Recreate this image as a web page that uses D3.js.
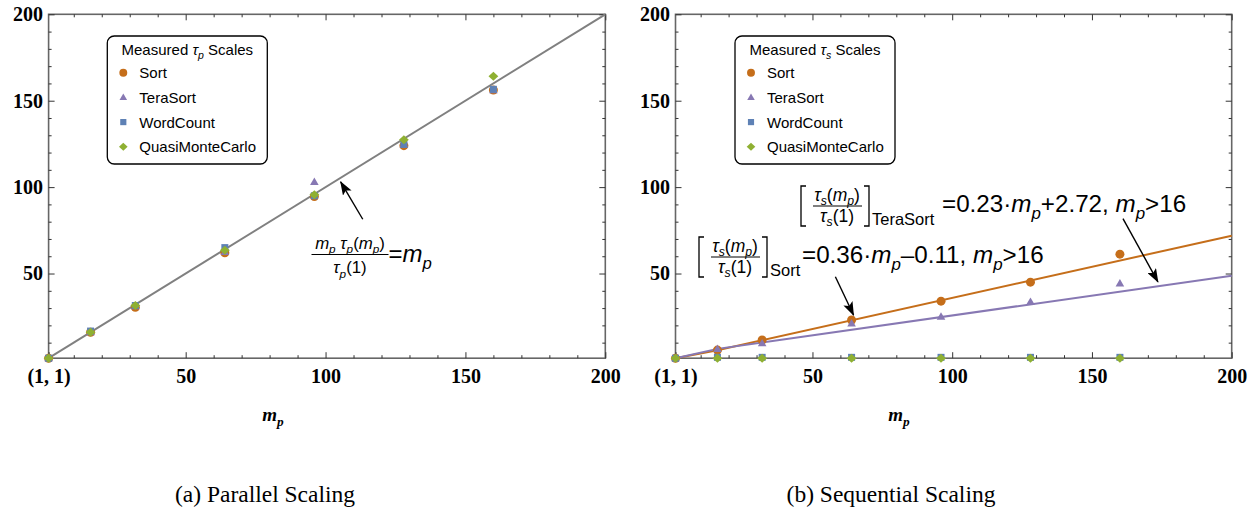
<!DOCTYPE html>
<html>
<head>
<meta charset="utf-8">
<script src="https://cdn.jsdelivr.net/npm/d3@7"></script>
<style>
  body { margin: 0; background: #fff; }
  svg { display: block; }
</style>
</head>
<body>
<div id="chart"></div>
<script>
//----------------------------------------------------------------
// data
var mpValues = [1, 16, 32, 64, 96, 128, 160];
var seriesNames = ["Sort", "TeraSort", "WordCount", "QuasiMonteCarlo"];

// (a) parallel scaling  m_p * tau_p(m_p) / tau_p(1)
var parSort      = [1, 16, 30.5, 62, 94.6, 124, 156.2];
var parTeraSort  = [1, 16, 31, 62.5, 103, 124.5, 156];
var parWordCount = [1, 16.7, 31.5, 65, 95, 124.7, 156.6];
var parQuasiMC   = [1, 16, 31.5, 63.5, 95.6, 127.4, 164.1];

// (b) sequential scaling  tau_s(m_p) / tau_s(1)
var seqSort      = [1, 5.7, 11.5, 23.1, 34, 45, 61.2];
var seqTeraSort  = [1, 6.3, 9.6, 21.1, 25, 33.6, 44.2];
var seqWordCount = [1, 1.5, 1.5, 1.5, 1.5, 1.5, 1.5];
var seqQuasiMC   = [1, 1, 1, 1, 1, 1, 1];

// linear fits for m_p > 16  [slope, intercept]
var sortFit = [0.36, -0.11];
var teraSortFit = [0.23, 2.72];
var fitFrom = 16;

var axisDomain = [1, 200];
var majorTicks = [50, 100, 150, 200];
var minorTicks = [10, 20, 30, 40, 60, 70, 80, 90, 110, 120, 130, 140, 160, 170, 180, 190];

var seriesColors = ["#c56e1a", "#8778b3", "#5e81b5", "#8fb032"];
var seriesShapes = ["circle", "triangle", "square", "diamond"];

//----------------------------------------------------------------
var largeur = 1251, hauteur = 510;
var svg = d3.select("#chart")
  .append("svg")
  .attr("width", largeur)
  .attr("height", hauteur);

var sansFont = "'Liberation Sans', Arial, sans-serif";
var serifFont = "'Liberation Serif', 'Times New Roman', serif";

var arrowDefs = svg.append("defs");
arrowDefs.append("marker")
  .attr("id", "arrowhead")
  .attr("markerUnits", "userSpaceOnUse")
  .attr("viewBox", "0 0 14 10")
  .attr("refX", 13).attr("refY", 5)
  .attr("markerWidth", 14).attr("markerHeight", 10)
  .attr("orient", "auto")
  .append("path")
  .attr("d", "M0,0 L14,5 L0,10 L3,5 Z")
  .attr("fill", "#000");

// marker outline centred on 0,0
function shapePath(kind, s) {
  if (kind === "circle") {
    var r = 4.5 * s;
    return "M" + (-r) + ",0A" + r + "," + r + " 0 1,0 " + r + ",0A" + r + "," + r + " 0 1,0 " + (-r) + ",0Z";
  }
  if (kind === "triangle") {
    var a = 4.3 * s, h = 7.4 * s;
    return "M0," + (-h * 0.6) + "L" + a + "," + (h * 0.4) + "L" + (-a) + "," + (h * 0.4) + "Z";
  }
  if (kind === "square") {
    var q = 3.5 * s;
    return "M" + (-q) + "," + (-q) + "H" + q + "V" + q + "H" + (-q) + "Z";
  }
  var w = 4.9 * s, v = 4.5 * s;
  return "M0," + (-v) + "L" + w + ",0L0," + v + "L" + (-w) + ",0Z";
}

// text with italic pieces and subscripts
function richText(txt, parts, size) {
  var shift = 0;
  parts.forEach(function(p) {
    var target = p.sub ? size * 0.28 : 0;
    txt.append("tspan")
      .attr("dy", target - shift)
      .style("font-size", (p.sub ? size * 0.7 : size) + "px")
      .style("font-style", p.it ? "italic" : "normal")
      .text(p.t);
    shift = target;
  });
  return txt;
}

//----------------------------------------------------------------
// one framed panel with ticks on all four sides
function drawFrame(x, y, captionText, captionX) {
  var g = svg.append("g");
  g.append("rect")
    .attr("x", x(axisDomain[0])).attr("y", y(axisDomain[1]))
    .attr("width", x(axisDomain[1]) - x(axisDomain[0]))
    .attr("height", y(axisDomain[0]) - y(axisDomain[1]))
    .attr("fill", "none")
    .attr("stroke", "#666")
    .attr("stroke-width", 1.6);

  var bottom = g.append("g").attr("transform", "translate(0," + y(1) + ")");
  bottom.call(d3.axisBottom(x).tickValues([1].concat(majorTicks))
    .tickSizeInner(-6).tickSizeOuter(0).tickPadding(11)
    .tickFormat(function(d) { return d === 1 ? "(1, 1)" : d; }));
  bottom.append("g").call(d3.axisBottom(x).tickValues(minorTicks).tickSize(-3).tickFormat(""));

  var top = g.append("g").attr("transform", "translate(0," + y(200) + ")");
  top.call(d3.axisTop(x).tickValues(majorTicks).tickSize(-6).tickFormat(""));
  top.append("g").call(d3.axisTop(x).tickValues(minorTicks).tickSize(-3).tickFormat(""));

  var left = g.append("g").attr("transform", "translate(" + x(1) + ",0)");
  left.call(d3.axisLeft(y).tickValues(majorTicks).tickSizeInner(-6).tickSizeOuter(0).tickPadding(5.5));
  left.append("g").call(d3.axisLeft(y).tickValues(minorTicks).tickSize(-3).tickFormat(""));

  var right = g.append("g").attr("transform", "translate(" + x(200) + ",0)");
  right.call(d3.axisRight(y).tickValues(majorTicks).tickSize(-6).tickFormat(""));
  right.append("g").call(d3.axisRight(y).tickValues(minorTicks).tickSize(-3).tickFormat(""));

  g.selectAll(".domain").remove();
  g.selectAll(".tick line").attr("stroke", "#333").attr("stroke-width", 1);
  g.selectAll(".tick text")
    .attr("fill", "#000")
    .style("font-family", serifFont)
    .style("font-weight", "bold")
    .style("font-size", "20px");

  // axis label m_p
  var lab = g.append("text")
    .attr("x", captionX + 8).attr("y", 421)
    .attr("text-anchor", "middle")
    .style("font-family", serifFont)
    .style("font-weight", "bold");
  richText(lab, [{t: "m", it: 1}, {t: "p", it: 1, sub: 1}], 19);

  g.append("text")
    .attr("x", captionX).attr("y", 502)
    .attr("text-anchor", "middle")
    .style("font-family", serifFont)
    .style("font-size", "23.5px")
    .text(captionText);
  return g;
}

function drawPoints(g, x, y, seriesList) {
  seriesList.forEach(function(vals, i) {
    g.selectAll(".pt" + i)
      .data(mpValues.map(function(m, j) { return [m, vals[j]]; }))
      .enter()
      .append("path")
      .attr("class", "pt" + i)
      .attr("d", shapePath(seriesShapes[i], 1))
      .attr("transform", function(d) { return "translate(" + x(d[0]) + "," + y(d[1]) + ")"; })
      .attr("fill", seriesColors[i]);
  });
}

function drawLegend(x0, y0, symbolSub) {
  var g = svg.append("g").attr("transform", "translate(" + x0 + "," + y0 + ")");
  g.append("rect")
    .attr("width", 160).attr("height", 128)
    .attr("rx", 7)
    .attr("fill", "#fff")
    .attr("stroke", "#000")
    .attr("stroke-width", 1.3);
  var title = g.append("text")
    .attr("x", 80).attr("y", 19)
    .attr("text-anchor", "middle")
    .style("font-family", sansFont);
  richText(title, [{t: "Measured "}, {t: "\u03c4", it: 1}, {t: symbolSub, it: 1, sub: 1}, {t: " Scales"}], 15);

  var item = g.selectAll(".item")
    .data(seriesNames)
    .enter()
    .append("g")
    .attr("transform", function(d, i) { return "translate(16," + (36.7 + i * 24.7) + ")"; });
  item.append("path")
    .attr("d", function(d, i) { return shapePath(seriesShapes[i], 0.88); })
    .attr("fill", function(d, i) { return seriesColors[i]; });
  item.append("text")
    .attr("x", 16).attr("y", 5.4)
    .style("font-family", sansFont)
    .style("font-size", "15px")
    .text(function(d) { return d; });
}

function arrow(x, y, from, to) {
  svg.append("line")
    .attr("x1", x(from[0])).attr("y1", y(from[1]))
    .attr("x2", x(to[0])).attr("y2", y(to[1]))
    .attr("stroke", "#000")
    .attr("stroke-width", 1.4)
    .attr("marker-end", "url(#arrowhead)");
}

//----------------------------------------------------------------
// (a) parallel scaling
var yScale = d3.scaleLinear().domain(axisDomain).range([358.2, 14.3]);
var xPar = d3.scaleLinear().domain(axisDomain).range([48.6, 605.3]);

var gPar = drawFrame(xPar, yScale, "(a) Parallel Scaling", 265);
var ideal = d3.line().x(function(d) { return xPar(d); }).y(function(d) { return yScale(d); });
gPar.append("path")
  .attr("d", ideal(axisDomain))
  .attr("fill", "none")
  .attr("stroke", "#808080")
  .attr("stroke-width", 2);
drawPoints(gPar, xPar, yScale, [parSort, parTeraSort, parWordCount, parQuasiMC]);
drawLegend(107.3, 36, "p");

arrow(xPar, yScale, [113.3, 81.4], [105.4, 103]);
var num = svg.append("text")
  .attr("x", 350).attr("y", 248.6)
  .attr("text-anchor", "middle")
  .style("font-family", sansFont);
richText(num, [{t: "m", it: 1}, {t: "p", it: 1, sub: 1}, {t: " \u03c4", it: 1}, {t: "p", it: 1, sub: 1},
  {t: "("}, {t: "m", it: 1}, {t: "p", it: 1, sub: 1}, {t: ")"}], 16.8);
svg.append("line")
  .attr("x1", 311.5).attr("x2", 388.5)
  .attr("y1", 254.5).attr("y2", 254.5)
  .attr("stroke", "#000").attr("stroke-width", 1);
var den = svg.append("text")
  .attr("x", 350).attr("y", 273)
  .attr("text-anchor", "middle")
  .style("font-family", sansFont);
richText(den, [{t: "\u03c4", it: 1}, {t: "p", it: 1, sub: 1}, {t: "(1)"}], 16.8);
var eq = svg.append("text")
  .attr("x", 388.5).attr("y", 262)
  .style("font-family", sansFont);
richText(eq, [{t: "="}, {t: "m", it: 1}, {t: "p", it: 1, sub: 1}], 24);

//----------------------------------------------------------------
// (b) sequential scaling
var xSeq = d3.scaleLinear().domain(axisDomain).range([675.5, 1231.7]);
var gSeq = drawFrame(xSeq, yScale, "(b) Sequential Scaling", 891);

function fitPoints(fit) {
  return [[1, 1], [fitFrom, fit[0] * fitFrom + fit[1]], [200, fit[0] * 200 + fit[1]]];
}
var fitLine = d3.line().x(function(d) { return xSeq(d[0]); }).y(function(d) { return yScale(d[1]); });
[[sortFit, seriesColors[0]], [teraSortFit, seriesColors[1]]].forEach(function(f) {
  gSeq.append("path")
    .attr("d", fitLine(fitPoints(f[0])))
    .attr("fill", "none")
    .attr("stroke", f[1])
    .attr("stroke-width", 2);
});
drawPoints(gSeq, xSeq, yScale, [seqSort, seqTeraSort, seqWordCount, seqQuasiMC]);
drawLegend(735, 36, "s");

arrow(xSeq, yScale, [58.2, 48.1], [64.7, 26]);
arrow(xSeq, yScale, [161.1, 81.8], [173.6, 45.2]);

function fitLabel(xL, base, groupName, mainX, mainParts) {
  var xR = xL + 68;
  var g = svg.append("g");
  g.append("path")
    .attr("d", "M" + (xL + 5) + "," + (base - 26) + "H" + xL + "V" + (base + 14) + "H" + (xL + 5) +
               "M" + (xR - 5) + "," + (base - 26) + "H" + xR + "V" + (base + 14) + "H" + (xR - 5))
    .attr("fill", "none").attr("stroke", "#000").attr("stroke-width", 1.3);
  var n = g.append("text").attr("x", xL + 36).attr("y", base - 11.5)
    .attr("text-anchor", "middle").style("font-family", sansFont);
  richText(n, [{t: "\u03c4", it: 1}, {t: "s", it: 1, sub: 1}, {t: "("}, {t: "m", it: 1}, {t: "p", it: 1, sub: 1}, {t: ")"}], 17.5);
  g.append("line")
    .attr("x1", xL + 12).attr("x2", xL + 61)
    .attr("y1", base - 6).attr("y2", base - 6)
    .attr("stroke", "#000").attr("stroke-width", 1);
  var dd = g.append("text").attr("x", xL + 36).attr("y", base + 9.5)
    .attr("text-anchor", "middle").style("font-family", sansFont);
  richText(dd, [{t: "\u03c4", it: 1}, {t: "s", it: 1, sub: 1}, {t: "(1)"}], 17.5);
  g.append("text")
    .attr("x", xR + 3).attr("y", base + 13)
    .style("font-family", sansFont).style("font-size", "16.5px")
    .text(groupName);
  var m = g.append("text").attr("x", mainX).attr("y", base).style("font-family", sansFont);
  richText(m, mainParts, 24.2);
}

fitLabel(801, 212, "TeraSort", 942, [{t: "=" + teraSortFit[0] + "\u00b7"}, {t: "m", it: 1}, {t: "p", it: 1, sub: 1},
  {t: "+" + teraSortFit[1] + ", "}, {t: "m", it: 1}, {t: "p", it: 1, sub: 1}, {t: ">" + fitFrom}]);
fitLabel(699, 263, "Sort", 802, [{t: "=" + sortFit[0] + "\u00b7"}, {t: "m", it: 1}, {t: "p", it: 1, sub: 1},
  {t: "\u2013" + Math.abs(sortFit[1]) + ", "}, {t: "m", it: 1}, {t: "p", it: 1, sub: 1}, {t: ">" + fitFrom}]);
</script>
</body>
</html>
